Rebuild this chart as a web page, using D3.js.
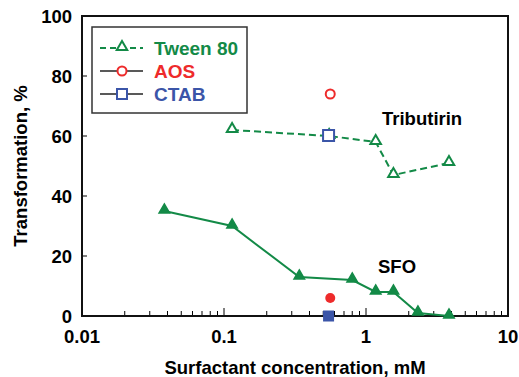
<!DOCTYPE html>
<html><head><meta charset="utf-8">
<script src="https://cdn.jsdelivr.net/npm/d3@7"></script>
<style>body{margin:0;background:#fff}svg{display:block}text{font-family:"Liberation Sans",Arial,sans-serif;font-weight:bold}</style>
</head><body>
<script>
const tributirinX = [0.114, 0.55, 1.17, 1.56, 3.84];
const tributirinY = [62, 60, 58, 47, 51];
const sfoX = [0.038, 0.114, 0.339, 0.80, 1.17, 1.56, 2.32, 3.84];
const sfoY = [35, 30, 13, 12, 8, 8, 1, 0];
const aosTribX = [0.56], aosTribY = [74];
const aosSfoX = [0.56], aosSfoY = [6];
const ctabTribX = [0.545], ctabTribY = [60];
const ctabSfoX = [0.545], ctabSfoY = [0];
const xTicks = [0.01, 0.1, 1, 10];
const yTicks = [0, 20, 40, 60, 80, 100];
const legendLabels = ["Tween 80", "AOS", "CTAB"];

const W = 519, H = 377;
const m = {l: 82, r: 11, t: 16, b: 61};
const green = "#138a47", red = "#ee2b2b", blue = "#3b55a8";
const svg = d3.select("body").append("svg").attr("width", W).attr("height", H);
const x = d3.scaleLog().domain([0.01, 10]).range([m.l, W - m.r]);
const y = d3.scaleLinear().domain([0, 100]).range([H - m.b, m.t]);

// minor/major ticks (inward)
const minor = [];
[0.01, 0.1, 1].forEach(d => { for (let k = 2; k <= 9; k++) minor.push(d * k); });
const g = svg.append("g");
g.selectAll(".mn").data(minor).join("line")
  .attr("x1", d => x(d)).attr("x2", d => x(d)).attr("y1", y(0)).attr("y2", y(0) - 5)
  .attr("stroke", "#000").attr("stroke-width", 1);
g.selectAll(".mj").data(xTicks.slice(1, 3)).join("line")
  .attr("x1", d => x(d)).attr("x2", d => x(d)).attr("y1", y(0)).attr("y2", y(0) - 8)
  .attr("stroke", "#000").attr("stroke-width", 1);
g.selectAll(".yt").data(yTicks.slice(1, 5)).join("line")
  .attr("x1", x(0.01)).attr("x2", x(0.01) + 5).attr("y1", d => y(d)).attr("y2", d => y(d))
  .attr("stroke", "#000").attr("stroke-width", 1);

// frame
svg.append("rect").attr("x", m.l).attr("y", m.t).attr("width", W - m.r - m.l).attr("height", H - m.b - m.t)
  .attr("fill", "none").attr("stroke", "#111").attr("stroke-width", 2);

// tick labels
svg.selectAll(".xl").data(xTicks).join("text")
  .attr("x", d => x(d)).attr("y", 343).attr("text-anchor", "middle").attr("font-size", 18.5)
  .text(d => d3.format("~g")(d));
svg.selectAll(".yl").data(yTicks).join("text")
  .attr("x", 72).attr("y", d => y(d) + 7).attr("text-anchor", "end").attr("font-size", 18.5)
  .text(d => d);

// axis titles
svg.append("text").attr("x", (m.l + W - m.r) / 2).attr("y", 374).attr("text-anchor", "middle")
  .attr("font-size", 18.5).text("Surfactant concentration, mM");
svg.append("text").attr("transform", `translate(27,${(m.t + H - m.b) / 2}) rotate(-90)`)
  .attr("text-anchor", "middle").attr("font-size", 18.5).text("Transformation, %");

const line = d3.line().x(d => x(d[0])).y(d => y(d[1]));
const tri = d3.symbol().type(d3.symbolTriangle).size(48);
const zip = (a, b) => a.map((v, i) => [v, b[i]]);

// Tributirin (dashed, open triangles)
const trib = zip(tributirinX, tributirinY);
svg.append("path").attr("d", line(trib)).attr("fill", "none").attr("stroke", green)
  .attr("stroke-width", 2).attr("stroke-dasharray", "7,4");
svg.selectAll(".tt").data(trib).join("path").attr("d", tri)
  .attr("transform", d => `translate(${x(d[0])},${y(d[1]) - 1})`)
  .attr("fill", "#fff").attr("stroke", green).attr("stroke-width", 2);

// SFO (solid, filled triangles)
const sfo = zip(sfoX, sfoY);
svg.append("path").attr("d", line(sfo)).attr("fill", "none").attr("stroke", green).attr("stroke-width", 2);
svg.selectAll(".st").data(sfo).join("path").attr("d", tri)
  .attr("transform", d => `translate(${x(d[0])},${y(d[1]) - 1})`)
  .attr("fill", green).attr("stroke", green).attr("stroke-width", 1.5);

// AOS
svg.selectAll(".ao").data(zip(aosTribX, aosTribY)).join("circle")
  .attr("cx", d => x(d[0])).attr("cy", d => y(d[1])).attr("r", 4.5)
  .attr("fill", "#fff").attr("stroke", red).attr("stroke-width", 2);
svg.selectAll(".af").data(zip(aosSfoX, aosSfoY)).join("circle")
  .attr("cx", d => x(d[0])).attr("cy", d => y(d[1])).attr("r", 5)
  .attr("fill", red);
// CTAB
svg.selectAll(".co").data(zip(ctabTribX, ctabTribY)).join("rect")
  .attr("x", d => x(d[0]) - 5.5).attr("y", d => y(d[1]) - 6).attr("width", 11).attr("height", 11)
  .attr("fill", "#fff").attr("stroke", blue).attr("stroke-width", 2);
svg.selectAll(".cf").data(zip(ctabSfoX, ctabSfoY)).join("rect")
  .attr("x", d => x(d[0]) - 5.5).attr("y", d => y(d[1]) - 5.5).attr("width", 11).attr("height", 11)
  .attr("fill", blue);

// annotations
svg.append("text").attr("x", 382).attr("y", 125).attr("font-size", 18.5).text("Tributirin");
svg.append("text").attr("x", 378).attr("y", 273).attr("font-size", 18.5).text("SFO");

// legend
const lg = svg.append("g");
lg.append("rect").attr("x", 92).attr("y", 27).attr("width", 155).attr("height", 86)
  .attr("fill", "#fff").attr("stroke", "#333").attr("stroke-width", 1.5);
const colors = [green, red, blue];
legendLabels.forEach((lab, i) => {
  const yy = 48 + i * 23;
  const ln = lg.append("line").attr("x1", 100).attr("x2", 143).attr("y1", yy).attr("y2", yy)
    .attr("stroke-width", i === 0 ? 2 : 1.3).attr("stroke", i === 0 ? green : "#222");
  if (i === 0) {
    ln.attr("stroke-dasharray", "6,4");
    lg.append("path").attr("d", tri).attr("transform", `translate(122,${yy - 1})`)
      .attr("fill", "#fff").attr("stroke", green).attr("stroke-width", 2);
  } else if (i === 1) {
    lg.append("circle").attr("cx", 122).attr("cy", yy).attr("r", 4.5)
      .attr("fill", "#fff").attr("stroke", red).attr("stroke-width", 2);
  } else {
    lg.append("rect").attr("x", 117).attr("y", yy - 5).attr("width", 10).attr("height", 10)
      .attr("fill", "#fff").attr("stroke", blue).attr("stroke-width", 2);
  }
  lg.append("text").attr("x", 154).attr("y", yy + 7).attr("font-size", 19)
    .attr("fill", colors[i]).text(lab);
});
</script>
</body></html>
